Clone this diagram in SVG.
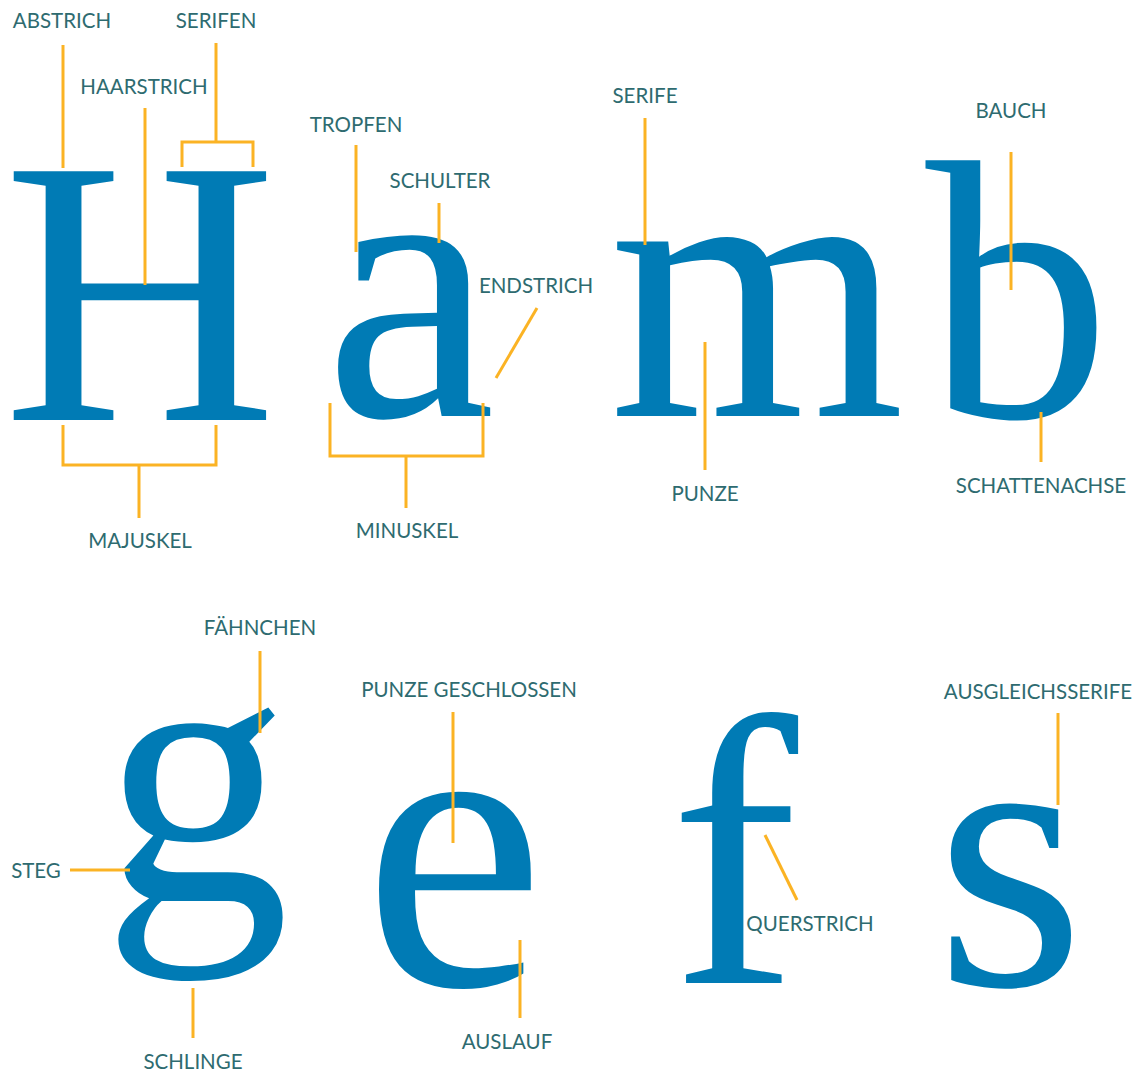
<svg xmlns="http://www.w3.org/2000/svg" width="1138" height="1072" viewBox="0 0 1138 1072">
<style>
.lbl{font-family:Lato,"Open Sans",sans-serif;font-size:20.5px;fill:#2e6b70;text-anchor:middle}
.gl{font-family:"Liberation Serif","Times New Roman",serif;fill:#007bb5;text-anchor:middle}
.ln{stroke:#fbb324;stroke-width:3;fill:none}
</style>
<rect width="1138" height="1072" fill="#fff"/>
<g id="letters">
<text id="H" class="gl" x="140" y="420" font-size="380">H</text>
<text id="a" class="gl" x="410" y="416" font-size="385">a</text>
<text id="m" class="gl" x="757" y="416" font-size="380">m</text>
<text id="b" class="gl" x="1018" y="417" font-size="370">b</text>
<text id="g" class="gl" x="196" y="900" font-size="375">g</text>
<text id="e" class="gl" x="454" y="985" font-size="410">e</text>
<text id="f" class="gl" x="734" y="983" font-size="385">f</text>
<text id="s" class="gl" x="1010" y="985" font-size="385">s</text>
</g>
<g id="connectors" class="ln">
<path d="M63,45V168"/>
<path d="M145,108V285"/>
<path d="M216,43V142M182,167V142H253V167"/>
<path d="M356,145V252"/>
<path d="M439,203V243"/>
<path d="M537,308L496,378"/>
<path d="M645,118V245"/>
<path d="M1011,152V290"/>
<path d="M63,425V465H216V425M139,465V518"/>
<path d="M330,403V456H483V403M406,456V508"/>
<path d="M705,342V470"/>
<path d="M1041,412V462"/>
<path d="M260,651V733"/>
<path d="M70,870H130"/>
<path d="M193,988V1038"/>
<path d="M453,712V843"/>
<path d="M520,940V1018"/>
<path d="M765,835L797,900"/>
<path d="M1058,713V805"/>
</g>
<g id="labels">
<text id="l-abstrich" class="lbl" x="62" y="28">ABSTRICH</text>
<text id="l-serifen" class="lbl" x="216" y="28">SERIFEN</text>
<text id="l-haarstrich" class="lbl" x="144" y="94">HAARSTRICH</text>
<text id="l-tropfen" class="lbl" x="356" y="132">TROPFEN</text>
<text id="l-schulter" class="lbl" x="440" y="188">SCHULTER</text>
<text id="l-endstrich" class="lbl" x="536" y="293">ENDSTRICH</text>
<text id="l-serife" class="lbl" x="645" y="103">SERIFE</text>
<text id="l-bauch" class="lbl" x="1011" y="118">BAUCH</text>
<text id="l-majuskel" class="lbl" x="140" y="548">MAJUSKEL</text>
<text id="l-minuskel" class="lbl" x="407" y="538">MINUSKEL</text>
<text id="l-punze" class="lbl" x="705" y="501">PUNZE</text>
<text id="l-schattenachse" class="lbl" x="1041" y="493">SCHATTENACHSE</text>
<text id="l-faehnchen" class="lbl" x="260" y="635">FÄHNCHEN</text>
<text id="l-steg" class="lbl" x="36" y="878">STEG</text>
<text id="l-schlinge" class="lbl" x="193" y="1069">SCHLINGE</text>
<text id="l-punzegeschl" class="lbl" x="469" y="697">PUNZE GESCHLOSSEN</text>
<text id="l-auslauf" class="lbl" x="507" y="1049">AUSLAUF</text>
<text id="l-querstrich" class="lbl" x="810" y="931">QUERSTRICH</text>
<text id="l-ausgleich" class="lbl" x="1038" y="699">AUSGLEICHSSERIFE</text>
</g>
</svg>
